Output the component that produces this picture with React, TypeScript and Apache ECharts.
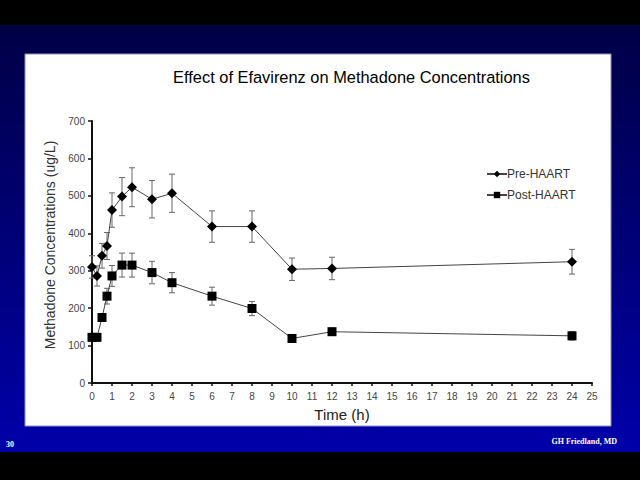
import React, { useEffect, useRef } from "react";
import * as echarts from "echarts";

const times = [0, 0.25, 0.5, 0.75, 1, 1.5, 2, 3, 4, 6, 8, 10, 12, 24];
const preMean = [310, 286, 340, 366, 462, 498, 523, 491, 507, 418, 418, 304, 306, 324];
const preErr = [30, 27, 33, 36, 46, 51, 52, 50, 51, 42, 42, 30, 30, 33];
const postMean = [122, 122, 175, 232, 286, 315, 315, 295, 268, 232, 199, 119, 137, 126];
const postErr = [10, 10, 10, 21, 28, 32, 32, 30, 27, 24, 19, 9, 10, 11];

const seriesNames = ["Pre-HAART", "Post-HAART"];
const titleText = "Effect of Efavirenz on Methadone Concentrations";
const xName = "Time (h)";
const yName = "Methadone Concentrations (ug/L)";
const slideNumber = "30";
const credit = "GH Friedland, MD";

function errData(mean: number[], err: number[]) {
  return times.map((t, i) => [t, mean[i] - err[i], mean[i] + err[i]]);
}

function renderErr(params: any, api: any) {
  const x = api.value(0);
  const lo = api.coord([x, api.value(1)]);
  const hi = api.coord([x, api.value(2)]);
  const cap = 3;
  const style = { stroke: "#666", lineWidth: 1, fill: "none" };
  return {
    type: "group",
    children: [
      { type: "line", shape: { x1: lo[0], y1: lo[1], x2: hi[0], y2: hi[1] }, style },
      { type: "line", shape: { x1: lo[0] - cap, y1: lo[1], x2: lo[0] + cap, y2: lo[1] }, style },
      { type: "line", shape: { x1: hi[0] - cap, y1: hi[1], x2: hi[0] + cap, y2: hi[1] }, style },
    ],
  };
}

export default function App() {
  const ref = useRef<HTMLDivElement>(null);
  useEffect(() => {
    if (!ref.current) return;
    const chart = echarts.init(ref.current, null, { renderer: "svg" });
    const font = "'Liberation Sans', Arial, sans-serif";
    chart.setOption({
      animation: false,
      backgroundColor: "#000",
      graphic: [
        {
          type: "rect",
          z: -10,
          shape: { x: 0, y: 25, width: 640, height: 427 },
          style: {
            fill: new echarts.graphic.LinearGradient(0, 0, 0, 1, [
              { offset: 0, color: "#000045" },
              { offset: 1, color: "#0000aa" },
            ]),
          },
        },
        {
          type: "rect",
          z: -9,
          shape: { x: 25, y: 54, width: 586, height: 372 },
          style: { fill: "#ffffff", stroke: "#9090c0", lineWidth: 1 },
        },
        {
          type: "text",
          z: 10,
          x: 351.5,
          y: 77,
          scaleX: 0.965,
          style: {
            text: titleText,
            fill: "#000",
            align: "center",
            verticalAlign: "middle",
            font: "17px 'Liberation Sans', Arial, sans-serif",
          },
        },
        {
          type: "text",
          z: 10,
          x: 6,
          y: 440,
          style: { text: slideNumber, fill: "#ffffff", font: "bold 8px 'Liberation Serif', serif" },
        },
        {
          type: "text",
          z: 10,
          x: 617,
          y: 437,
          style: {
            text: credit,
            fill: "#ffffff",
            align: "right",
            font: "bold 8px 'Liberation Serif', serif",
          },
        },
      ],
      legend: {
        orient: "vertical",
        left: 481,
        top: 163,
        itemWidth: 20,
        itemHeight: 8,
        itemGap: 9,
        data: seriesNames,
        textStyle: { fontFamily: font, fontSize: 12, color: "#333", padding: [0, 0, 0, -5] },
      },
      grid: { left: 92, right: 48, top: 121, bottom: 97 },
      xAxis: {
        type: "value",
        min: 0,
        max: 25,
        interval: 1,
        name: xName,
        nameLocation: "middle",
        nameGap: 24,
        nameTextStyle: { fontFamily: font, fontSize: 15, color: "#222" },
        axisLine: { lineStyle: { color: "#111", width: 2 } },
        axisTick: { length: 3, lineStyle: { color: "#111", width: 1.5 } },
        axisLabel: { fontFamily: font, fontSize: 10, color: "#444", margin: 8 },
        splitLine: { show: false },
      },
      yAxis: {
        type: "value",
        min: 0,
        max: 700,
        interval: 100,
        name: yName,
        nameLocation: "middle",
        nameGap: 34,
        nameTextStyle: { fontFamily: font, fontSize: 14, color: "#333", padding: [0, 0, 0, 14] },
        axisLine: { show: true, lineStyle: { color: "#111", width: 2 } },
        axisTick: { show: true, length: 4, lineStyle: { color: "#111", width: 1.5 } },
        axisLabel: { fontFamily: font, fontSize: 10, color: "#444", margin: 7 },
        splitLine: { show: false },
      },
      series: [
        {
          type: "custom",
          name: "preErr",
          renderItem: renderErr,
          data: errData(preMean, preErr),
          z: 1,
          silent: true,
        },
        {
          type: "custom",
          name: "postErr",
          renderItem: renderErr,
          data: errData(postMean, postErr),
          z: 1,
          silent: true,
        },
        {
          type: "line",
          name: seriesNames[0],
          data: times.map((t, i) => [t, preMean[i]]),
          symbol: "diamond",
          symbolSize: 10,
          lineStyle: { color: "#444", width: 1 },
          itemStyle: { color: "#000" },
          z: 3,
        },
        {
          type: "line",
          name: seriesNames[1],
          data: times.map((t, i) => [t, postMean[i]]),
          symbol: "rect",
          symbolSize: 9,
          lineStyle: { color: "#444", width: 1 },
          itemStyle: { color: "#000" },
          z: 3,
        },
      ],
    });
    return () => chart.dispose();
  }, []);
  return (
    <div
      ref={ref}
      style={{ position: "fixed", left: 0, top: 0, width: 640, height: 480 }}
    />
  );
}
